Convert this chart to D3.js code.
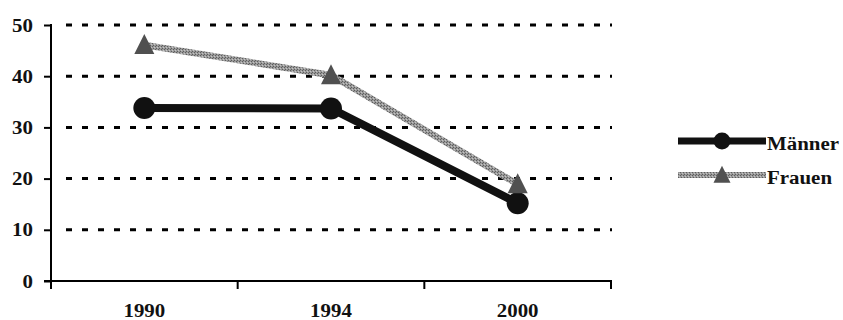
<!DOCTYPE html>
<html>
<head>
<meta charset="utf-8">
<script src="https://cdn.jsdelivr.net/npm/d3@7"></script>
<style>
  html, body { margin: 0; padding: 0; background: #fff; }
</style>
</head>
<body>
<svg id="chart" width="843" height="320"></svg>
<script>
// Data
const years = ["1990", "1994", "2000"];
const maenner = [33.8, 33.7, 15.2];
const frauen = [46.1, 40.2, 18.9];
const yTicks = [0, 10, 20, 30, 40, 50];
const seriesNames = ["Männer", "Frauen"];

const FONT = "'Liberation Serif', 'Times New Roman', Times, 'DejaVu Serif', serif";
const STRETCH = 1.1; // slightly wide lettering

const svg = d3.select("#chart");

// Dithered grey fill for the second series line
const defs = svg.append("defs");
const pat = defs.append("pattern")
  .attr("id", "greyDither")
  .attr("width", 3).attr("height", 3)
  .attr("patternUnits", "userSpaceOnUse");
pat.append("rect").attr("width", 3).attr("height", 3).attr("fill", "#9a9a9a");
pat.append("rect").attr("x", 0).attr("y", 0).attr("width", 1).attr("height", 1).attr("fill", "#5e5e5e");
pat.append("rect").attr("x", 2).attr("y", 1).attr("width", 1).attr("height", 1).attr("fill", "#5e5e5e");
pat.append("rect").attr("x", 1).attr("y", 2).attr("width", 1).attr("height", 1).attr("fill", "#c4c4c4");

const x = d3.scaleBand().domain(years).range([51, 611]).padding(0);
const y = d3.scaleLinear().domain([0, 50]).range([281, 25]);
const cx = d => x(d) + x.bandwidth() / 2;

// Helper: bold serif label, stretched horizontally about its anchor point
function label(sel, px, py, anchor) {
  return sel
    .attr("transform", (d, i) => `translate(${px(d, i)},${py(d, i)}) scale(${STRETCH},1)`)
    .attr("text-anchor", anchor)
    .attr("font-family", FONT).attr("font-size", 19).attr("font-weight", "bold")
    .attr("fill", "#111");
}

// Dashed gridlines
svg.append("g").selectAll("line")
  .data(yTicks.filter(t => t > 0))
  .join("line")
  .attr("x1", 66).attr("x2", 612)
  .attr("y1", d => y(d)).attr("y2", d => y(d))
  .attr("stroke", "#000").attr("stroke-width", 3)
  .attr("stroke-dasharray", "6 10");

// Y axis
const yAxis = d3.axisLeft(y).tickValues(yTicks).tickSize(7).tickFormat("");
const gy = svg.append("g").attr("transform", "translate(51,0)").call(yAxis);
gy.select(".domain").remove();
gy.selectAll(".tick line").attr("stroke", "#000").attr("stroke-width", 2);
label(svg.append("g").selectAll("text").data(yTicks).join("text").text(d => d),
  () => 33, d => y(d) + 6.5, "end");
svg.append("line").attr("x1", 51).attr("x2", 51).attr("y1", 24).attr("y2", 289)
  .attr("stroke", "#000").attr("stroke-width", 2);

// X axis: ticks at category boundaries
svg.append("line").attr("x1", 44).attr("x2", 612).attr("y1", 281).attr("y2", 281)
  .attr("stroke", "#000").attr("stroke-width", 2);
const bounds = years.map(d => x(d)).concat([x(years[years.length - 1]) + x.bandwidth()]);
svg.append("g").selectAll("line").data(bounds).join("line")
  .attr("x1", d => d).attr("x2", d => d).attr("y1", 281).attr("y2", 289)
  .attr("stroke", "#000").attr("stroke-width", 2);
label(svg.append("g").selectAll("text").data(years).join("text").text(d => d),
  d => cx(d), () => 316.5, "middle");

const line = d3.line().x(d => cx(d[0])).y(d => y(d[1]));
const tri = (px, py, w, h) => `M${px},${py - h * 0.55}L${px + w / 2},${py + h * 0.45}L${px - w / 2},${py + h * 0.45}Z`;

// Männer series
const mPts = years.map((d, i) => [d, maenner[i]]);
svg.append("path").attr("d", line(mPts))
  .attr("fill", "none").attr("stroke", "#111").attr("stroke-width", 8);
svg.append("g").selectAll("circle").data(mPts).join("circle")
  .attr("cx", d => cx(d[0])).attr("cy", d => y(d[1])).attr("r", 11)
  .attr("fill", "#111");

// Frauen series
const fPts = years.map((d, i) => [d, frauen[i]]);
svg.append("path").attr("d", line(fPts))
  .attr("fill", "none").attr("stroke", "url(#greyDither)").attr("stroke-width", 6.5);
svg.append("g").selectAll("path").data(fPts).join("path")
  .attr("d", d => tri(cx(d[0]), y(d[1]), 20, 20))
  .attr("fill", "#505050");

// Legend
const lg = svg.append("g");
const legY = [141, 175];
lg.append("line").attr("x1", 678).attr("x2", 766).attr("y1", legY[0]).attr("y2", legY[0])
  .attr("stroke", "#111").attr("stroke-width", 7);
lg.append("circle").attr("cx", 722).attr("cy", legY[0]).attr("r", 8.5).attr("fill", "#111");
lg.append("line").attr("x1", 678).attr("x2", 766).attr("y1", legY[1]).attr("y2", legY[1])
  .attr("stroke", "url(#greyDither)").attr("stroke-width", 6);
lg.append("path").attr("d", tri(722, legY[1], 17, 17)).attr("fill", "#505050");
label(lg.selectAll("text").data(seriesNames).join("text").text(d => d),
  () => 767, (d, i) => legY[i] + 8.5, "start");
</script>
</body>
</html>
